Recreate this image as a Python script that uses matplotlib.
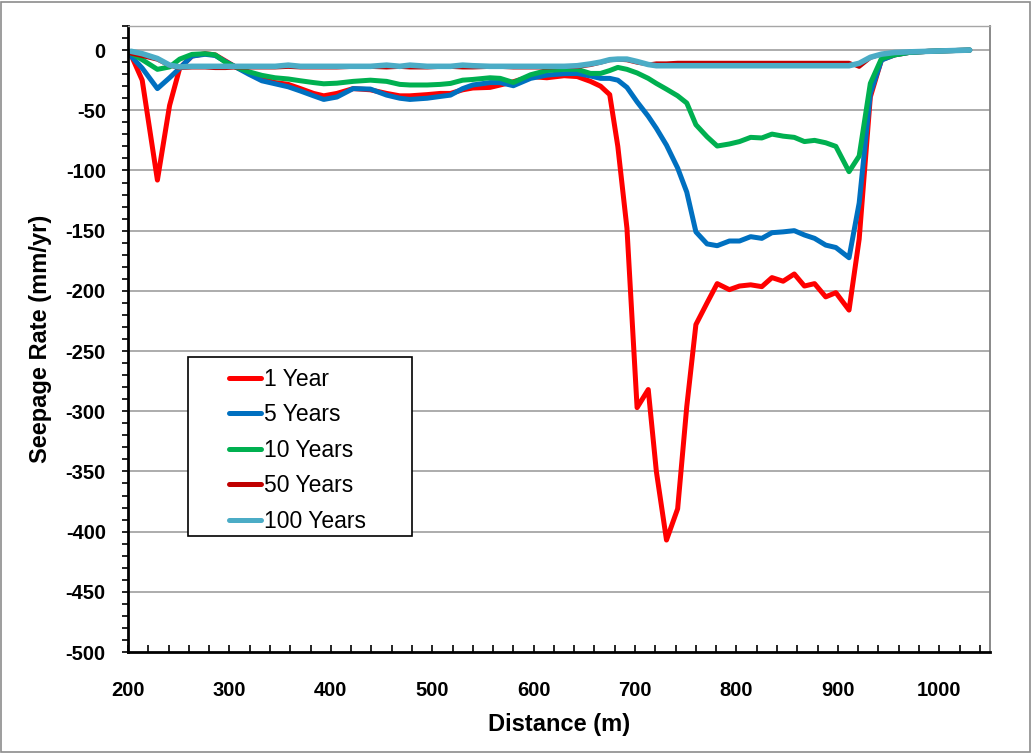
import matplotlib
matplotlib.use("Agg")
import matplotlib.pyplot as plt
from matplotlib.patches import Rectangle
from matplotlib.ticker import MultipleLocator

plt.rcParams['font.family'] = ['Liberation Sans', 'DejaVu Sans']
plt.rcParams['axes.unicode_minus'] = False

distance = [203, 214, 229, 241, 251, 263, 276, 286, 296, 306, 319, 332, 345, 358, 370,
            383, 393, 406, 422, 439, 455, 468, 478, 495, 508, 518, 530, 540, 557, 567,
            580, 597, 613, 630, 643, 656, 666, 675, 683, 692, 702, 713, 721, 731, 742,
            751, 760, 771, 781, 793, 803, 814, 825, 835, 846, 857, 867, 877, 888, 898,
            911, 921, 932, 943, 956, 970, 990, 1010, 1030]

year1 = [-4, -25, -108, -46, -15, -5, -3, -4, -9, -14, -19, -24, -27, -28.5, -32,
         -36, -38, -36, -32, -33, -36, -38, -38, -37, -36, -36, -33, -31.5, -31, -29,
         -26.3, -22, -23, -21.3, -22, -26, -30, -37, -80, -148, -297, -282, -350, -407, -381,
         -296, -228, -210, -194, -199, -196, -195, -196.5, -189, -192, -186, -196, -194, -205, -201.5,
         -216, -157, -39, -8, -4, -2, -1, -0.5, 0]

year5 = [-5, -15, -32, -23, -15, -5, -3.5, -4.5, -9.5, -14, -20, -25.5, -28, -30.5, -34,
         -38, -41, -39, -32, -32.4, -37.4, -40, -41, -40, -38.5, -37.4, -32, -29, -27, -27,
         -29.6, -23.5, -20.8, -19.6, -19.4, -21.5, -23.5, -23.5, -25, -31, -43, -55, -65, -79, -98,
         -118, -151, -161, -162.5, -158.6, -158.6, -155, -156.4, -151.7, -151, -150, -153.6, -156.4, -162, -164,
         -172.5, -127, -36, -8.3, -4, -2, -1, -0.5, 0]

year10 = [-2.5, -8, -16, -14, -7.5, -3.6, -3, -4, -10, -14, -18, -21, -23, -24, -25.5,
          -27, -28, -27.5, -26, -25, -26, -28.5, -29, -29, -28.5, -27.7, -25, -24.4, -23, -23.5,
          -26.9, -20.5, -17, -16, -16, -19.4, -19.4, -17, -14.4, -16, -19, -23.5, -27.7, -32.5, -38,
          -44, -62, -72, -79.7, -78, -76, -72.5, -73, -69.8, -71.5, -72.5, -76, -75, -77, -80,
          -101, -88, -27.7, -7, -4, -2, -1, -0.5, 0]

year50 = [-3, -5, -8, -13, -15, -14.5, -14.5, -15, -15, -14.5, -14.5, -14.5, -14.5, -14, -14.5,
          -14.5, -14.5, -14.5, -14, -14, -14.5, -14, -14.5, -14.5, -14, -14, -14.5, -14.5, -14, -14,
          -14.5, -14.5, -14.5, -14, -14, -12.5, -10.5, -8.5, -8, -8.5, -10.5, -12, -11, -11, -10.5,
          -10.5, -10.5, -10.5, -10.5, -10.5, -10.5, -10.5, -10.5, -10.5, -10.5, -10.5, -10.5, -10.5, -10.5, -10.5,
          -10.5, -14, -6.5, -3.5, -2, -1.5, -1, -0.5, 0]

year100 = [-1, -3, -7, -12.5, -14, -13.5, -13.5, -13.5, -13.5, -13.5, -13.5, -13.5, -13.5, -12.5, -13.5,
           -13.5, -13.5, -13.5, -13.5, -13.5, -12.5, -13.5, -12.5, -13.5, -13.5, -13.5, -12.5, -13, -13.5, -13.5,
           -13.5, -13.5, -13.5, -13.5, -13, -11.5, -10, -8, -7.5, -7.5, -9.5, -12, -13, -13, -13,
           -13, -13, -13, -13, -13, -13, -13, -13, -13, -13, -13, -13, -13, -13, -13,
           -13, -11, -6, -3.4, -2, -1.5, -1, -0.5, 0]

labels = ['1 Year', '5 Years', '10 Years', '50 Years', '100 Years']
colors = ['#FF0000', '#0070C0', '#00B050', '#C00000', '#4BACC6']
widths = [3.6, 3.6, 3.6, 2.8, 4.0]
series = [year1, year5, year10, year50, year100]

x_ticks = [200, 300, 400, 500, 600, 700, 800, 900, 1000]
y_ticks = list(range(-500, 1, 50))

fig = plt.figure(figsize=(10.32, 7.53), dpi=100)
ax = fig.add_axes([128/1032, 1-652/753, (990-128)/1032, (652-26)/753])

for yv in y_ticks[1:]:
    ax.axhline(yv, color='#A6A6A6', lw=1.3, zorder=0)

lines = []
for s, c, w, l in zip(series, colors, widths, labels):
    ln, = ax.plot(distance, s, color=c, lw=w, label=l, solid_joinstyle='round', solid_capstyle='round')
    lines.append(ln)

ax.set_xlim(200, 1050)
ax.set_ylim(-500, 20)
ax.set_xticks(x_ticks)
ax.set_yticks(y_ticks)
ax.xaxis.set_minor_locator(MultipleLocator(20))
ax.yaxis.set_minor_locator(MultipleLocator(10))
ax.tick_params(axis='x', which='both', direction='in', length=5, width=1.2, pad=21,
               labelsize=14.5, top=False)
ax.tick_params(axis='y', which='both', direction='out', length=4, width=1.2, pad=12,
               labelsize=14.5, right=False)
for lab in ax.get_xticklabels() + ax.get_yticklabels():
    lab.set_fontweight('bold')

ax.spines['left'].set_linewidth(2)
ax.spines['bottom'].set_linewidth(2)
ax.spines['top'].set_color('#A6A6A6')
ax.spines['right'].set_color('#808080')
ax.spines['top'].set_linewidth(1)
ax.spines['right'].set_linewidth(1.3)

ax.set_xlabel('Distance (m)', fontsize=17, fontweight='bold')
ax.set_ylabel('Seepage Rate (mm/yr)', fontsize=17, fontweight='bold')
ax.xaxis.set_label_coords(0.5, -0.097)
ax.yaxis.set_label_coords(-0.088, 0.5)

box = Rectangle((188/1032, 1-536/753), (412-188)/1032, (536-357)/753,
                transform=fig.transFigure, fill=True, facecolor='white',
                edgecolor='black', lw=1.2, zorder=4, clip_on=False)
ax.add_patch(box)

leg = ax.legend(handles=lines, loc='upper left', bbox_to_anchor=(229/1032, 1-368/753),
                bbox_transform=fig.transFigure, frameon=False, fontsize=16.5,
                handlelength=1.4, handletextpad=0.12, labelspacing=0.545, borderpad=0,
                borderaxespad=0)
leg.set_zorder(6)
for h in leg.get_lines():
    h.set_linewidth(3.6)

fig.patches.append(Rectangle((0.001, 0.001), 0.997, 0.997, transform=fig.transFigure,
                             fill=False, edgecolor='#8C8C8C', lw=1.2))

fig.savefig('out.png', dpi=100)
